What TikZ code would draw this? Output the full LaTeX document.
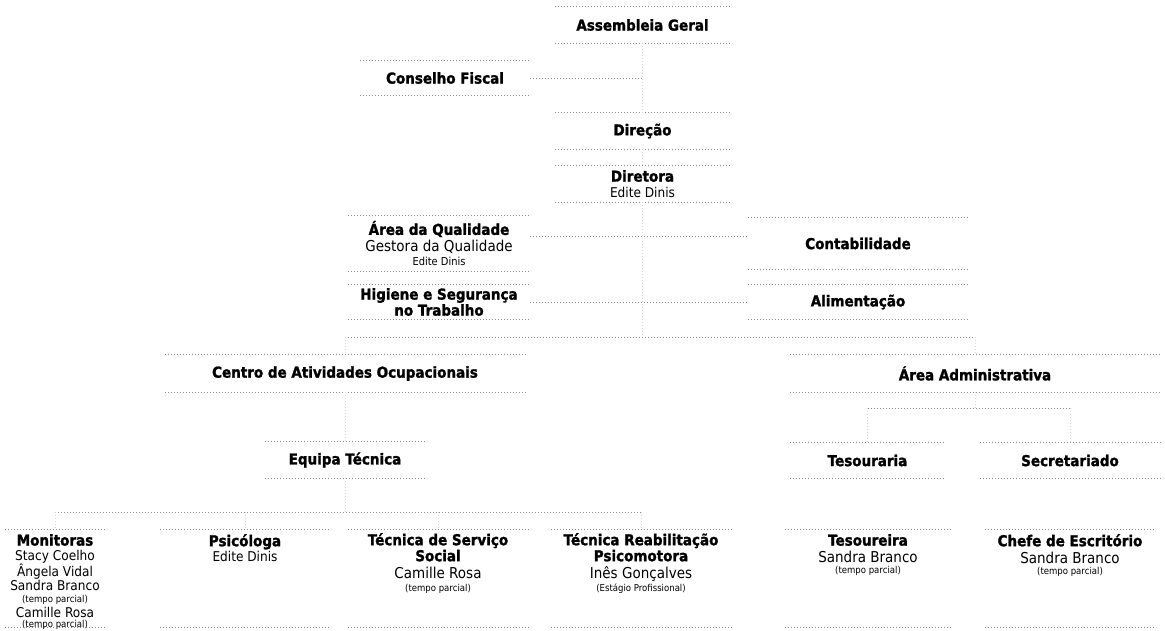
\documentclass[tikz,border=0pt]{standalone}
\usepackage{fontspec}
\setmainfont{DejaVu Sans}[FakeStretch=0.9, BoldFeatures={FakeBold=1.5}]
\newcommand\fhead{\fontsize{15}{15}\selectfont\bfseries}
\newcommand\fname{\fontsize{13.5}{15}\selectfont}
\newcommand\fbig{\fontsize{15}{15}\selectfont}
\newcommand\fsmall{\fontsize{11}{15}\selectfont}
\newcommand\ftiny{\fontsize{9.5}{15}\selectfont}
\begin{document}
\begin{tikzpicture}[x=1pt,y=-1pt,
  box/.style={rectangle, inner sep=0pt, align=center, font=\fontsize{15}{15}\selectfont},
  txt/.style={anchor=north, inner sep=0pt, align=center, font=\fontsize{15}{15}\selectfont},
  edge/.style={black!45, line width=0.7pt, dash pattern=on 0.8pt off 2.2pt},
  hlink/.style={black!45, line width=0.7pt, dash pattern=on 0.8pt off 2.2pt},
  vlink/.style={black!15, line width=0.6pt, dash pattern=on 0.8pt off 2.2pt}]
\useasboundingbox (0,0) rectangle (1165,630);
\fill[white] (0,0) rectangle (1165,630);

% top levels
\node[box, minimum width=175, minimum height=36] (ag) at (642.5,25) {\fhead Assembleia Geral};
\node[box, minimum width=170, minimum height=34] (cf) at (445,78) {\fhead Conselho Fiscal};
\node[box, minimum width=175, minimum height=36] (dir) at (642.5,131) {\fhead Direção};
\node[box, minimum width=175, minimum height=36] (dtr) at (642.5,184) {{\fhead Diretora}\\[1pt]{\fname Edite Dinis}};
\node[box, minimum width=182, minimum height=55] (aq) at (439,243.5) {{\fhead Área da Qualidade}\\[2pt]{\fbig Gestora da Qualidade}\\[-1pt]{\fsmall Edite Dinis}};
\node[box, minimum width=220, minimum height=51] (cont) at (858,243.5) {\fhead Contabilidade};
\node[box, minimum width=182, minimum height=35] (hig) at (439,302) {{\fhead Higiene e Segurança}\\[1pt]{\fhead no Trabalho}};
\node[box, minimum width=220, minimum height=34] (alim) at (858,302) {\fhead Alimentação};
\node[box, minimum width=360, minimum height=37] (cao) at (345,373.5) {\fhead Centro de Atividades Ocupacionais};
\node[box, minimum width=370, minimum height=37] (aa) at (975,373.5) {\fhead Área Administrativa};
\node[box, minimum width=160, minimum height=36] (eq) at (345,460) {\fhead Equipa Técnica};
\node[box, minimum width=155, minimum height=35] (tes) at (867.5,460.5) {\fhead Tesouraria};
\node[box, minimum width=180, minimum height=35] (sec) at (1070,460.5) {\fhead Secretariado};

% bottom row boxes
\node[box, minimum width=100, minimum height=97] (mon) at (55,578.5) {};
\node[box, minimum width=170, minimum height=97] (psi) at (245,578.5) {};
\node[box, minimum width=180, minimum height=97] (tss) at (438,578.5) {};
\node[box, minimum width=180, minimum height=97] (trp) at (641,578.5) {};
\node[box, minimum width=165, minimum height=97] (tsr) at (868,578.5) {};
\node[box, minimum width=170, minimum height=97] (chf) at (1070,578.5) {};

\node[txt] (monT) at (55,534) {{\fhead Monitoras}\\{\fname Stacy Coelho}\\[-0.5pt]{\fname Ângela Vidal}\\[-0.5pt]{\fname Sandra Branco}\\[-3.5pt]{\ftiny (tempo parcial)}\\[0pt]{\fname Camille Rosa}\\[-4.5pt]{\ftiny (tempo parcial)}};
\node[txt] (psiT) at (245,534) {{\fhead Psicóloga}\\{\fname Edite Dinis}};
\node[txt] (tssT) at (438,533) {{\fhead Técnica de Serviço}\\[1pt]{\fhead Social}\\[2pt]{\fbig Camille Rosa}\\[-2pt]{\ftiny (tempo parcial)}};
\node[txt] (trpT) at (641,533) {{\fhead Técnica Reabilitação}\\[1pt]{\fhead Psicomotora}\\[2pt]{\fbig Inês Gonçalves}\\[-2pt]{\ftiny (Estágio Profissional)}};
\node[txt] (tsrT) at (868,534) {{\fhead Tesoureira}\\[2pt]{\fbig Sandra Branco}\\[-4pt]{\ftiny (tempo parcial)}};
\node[txt] (chfT) at (1070,534) {{\fhead Chefe de Escritório}\\[2pt]{\fbig Sandra Branco}\\[-4pt]{\ftiny (tempo parcial)}};

% box edges (only horizontal edges survive in the scan)
\foreach \n in {ag,cf,dir,dtr,aq,cont,hig,alim,cao,aa,eq,tes,sec,mon,psi,tss,trp,tsr,chf}
  \draw[edge] (\n.north west) -- (\n.north east) (\n.south west) -- (\n.south east);

% connectors
\coordinate (busTop) at (642.5,337);
\coordinate (busAdm) at (975,408);
\coordinate (busEq) at (345,512);
\draw[vlink] (ag.south) -- (dir.north);
\draw[hlink] (cf.east) -- (cf.east -| ag.south);
\draw[vlink] (dir.south) -- (dtr.north);
\draw[vlink] (dtr.south) -- (busTop);
\draw[hlink] ([yshift=7pt]aq.east) -- ([yshift=7pt]aq.east -| cont.west);
\draw[hlink] (hig.east) -- (hig.east -| alim.west);
\draw[hlink] (busTop -| cao.north) -- (busTop -| aa.north);
\draw[vlink] (busTop -| cao.north) -- (cao.north);
\draw[vlink] (busTop -| aa.north) -- (aa.north);
\draw[vlink] (aa.south) -- (busAdm);
\draw[hlink] (busAdm -| tes.north) -- (busAdm -| sec.north);
\draw[vlink] (busAdm -| tes.north) -- (tes.north);
\draw[vlink] (busAdm -| sec.north) -- (sec.north);
\draw[vlink] (cao.south) -- (eq.north);
\draw[vlink] (eq.south) -- (busEq);
\draw[hlink] (busEq -| mon.north) -- (busEq -| trp.north);
\foreach \n in {mon,psi,tss,trp}
  \draw[vlink] (busEq -| \n.north) -- (\n.north);
\end{tikzpicture}
\end{document}
